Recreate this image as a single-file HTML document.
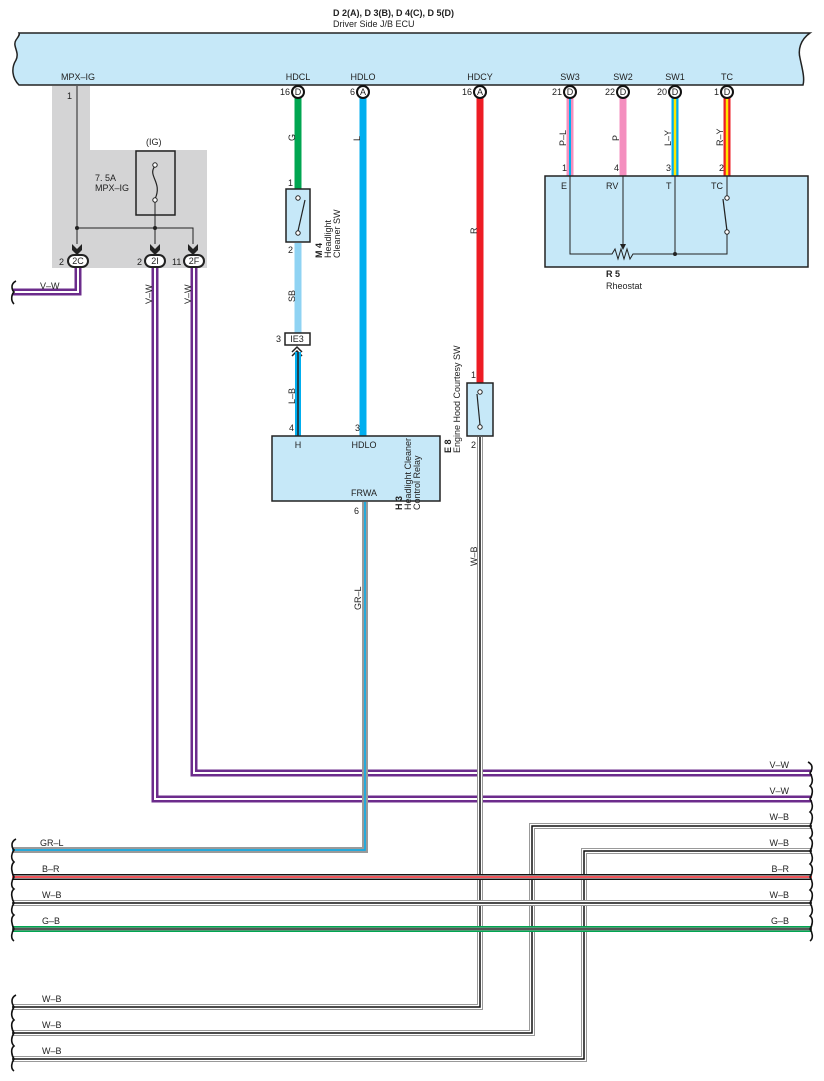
<!DOCTYPE html>
<html><head><meta charset="utf-8"><style>
html,body{margin:0;padding:0;background:#fff}
svg{display:block}
text{font-family:"Liberation Sans",Arial,sans-serif;font-size:9px;fill:#222}
.b{font-weight:bold}
</style></head><body>
<svg width="824" height="1081" viewBox="0 0 824 1081" xmlns="http://www.w3.org/2000/svg">
<!-- header -->
<text x="333" y="16" class="b" font-size="9">D 2(A), D 3(B), D 4(C), D 5(D)</text>
<text x="333" y="27">Driver Side J/B ECU</text>
<!-- ECU bar -->
<path d="M19,33 L810,33 C800,40 798,50 800,58 C802,68 805,78 803,85 L19,85 C12,78 11,68 16,60 C20,52 12,46 16,40 C18,37 20,35 19,33 Z" fill="#c6e8f8" stroke="#222" stroke-width="1.5"/>
<g text-anchor="middle">
<text x="78" y="80">MPX–IG</text>
<text x="298" y="80">HDCL</text>
<text x="363" y="80">HDLO</text>
<text x="480" y="80">HDCY</text>
<text x="570" y="80">SW3</text>
<text x="623" y="80">SW2</text>
<text x="675" y="80">SW1</text>
<text x="727" y="80">TC</text>
</g>
<!-- gray area -->
<path d="M52,86 L90,86 L90,150 L207,150 L207,268 L52,268 Z" fill="#d4d4d5"/>
<text x="67" y="99">1</text>
<line x1="77" y1="86" x2="77" y2="244" stroke="#222" stroke-width="1"/>
<text x="146" y="145">(IG)</text>
<rect x="136" y="151" width="39" height="64" fill="none" stroke="#222" stroke-width="1.5"/>
<path d="M155,166 C147,176 163,182 155,199" fill="none" stroke="#222" stroke-width="1.2"/>
<circle cx="155" cy="165" r="2.2" fill="#fff" stroke="#222"/>
<circle cx="155" cy="200" r="2.2" fill="#fff" stroke="#222"/>
<text x="95" y="181">7. 5A</text>
<text x="95" y="191">MPX–IG</text>
<line x1="155" y1="202" x2="155" y2="244" stroke="#222"/>
<polyline points="77,228 193,228 193,244" fill="none" stroke="#222"/>
<circle cx="77" cy="228" r="2" fill="#222"/><circle cx="155" cy="228" r="2" fill="#222"/>
<g fill="#222">
<path d="M72,244 L77,249 L82,244 L82,250 L77,255 L72,250 Z"/>
<path d="M150,244 L155,249 L160,244 L160,250 L155,255 L150,250 Z"/>
<path d="M188,244 L193,249 L198,244 L198,250 L193,255 L188,250 Z"/>
</g>
<!-- purple wires -->
<g fill="none" stroke-linejoin="miter">
<polyline points="78,267 78,292 12,292" stroke="#6c2c8c" stroke-width="7"/>
<polyline points="78,267 78,292 12,292" stroke="#fff" stroke-width="2"/>
<polyline points="155,267 155,799 812,799" stroke="#6c2c8c" stroke-width="7"/>
<polyline points="155,267 155,799 812,799" stroke="#fff" stroke-width="2"/>
<polyline points="194,267 194,773 812,773" stroke="#6c2c8c" stroke-width="7"/>
<polyline points="194,267 194,773 812,773" stroke="#fff" stroke-width="2"/>
</g>
<g stroke="#222" stroke-width="2" fill="#fff">
<rect x="68" y="255" width="20" height="12" rx="6"/>
<rect x="145" y="255" width="20" height="12" rx="6"/>
<rect x="184" y="255" width="20" height="12" rx="6"/>
</g>
<g text-anchor="middle" font-size="8.5">
<text x="78" y="264">2C</text><text x="155" y="264">2I</text><text x="194" y="264">2F</text>
</g>
<text x="59" y="265">2</text><text x="137" y="265">2</text><text x="172" y="265">11</text>
<text x="40" y="289">V–W</text>
<text transform="translate(152,304) rotate(-90)">V–W</text>
<text transform="translate(191,304) rotate(-90)">V–W</text>

<!-- HDCL green -->
<line x1="298" y1="98" x2="298" y2="189" stroke="#00a651" stroke-width="7"/>
<text transform="translate(295,141) rotate(-90)">G</text>
<text x="288" y="186">1</text>
<rect x="286" y="189" width="24" height="53" fill="#c6e8f8" stroke="#222" stroke-width="1.5"/>
<circle cx="298" cy="198" r="2.2" fill="#fff" stroke="#222"/>
<circle cx="298" cy="233" r="2.2" fill="#fff" stroke="#222"/>
<line x1="298" y1="231" x2="305" y2="200" stroke="#222" stroke-width="1.2"/>
<text x="288" y="253">2</text>
<text transform="translate(322,258) rotate(-90)" class="b">M 4</text>
<text transform="translate(331,258) rotate(-90)">Headlight</text>
<text transform="translate(340,258) rotate(-90)">Cleaner SW</text>
<line x1="298" y1="243" x2="298" y2="333" stroke="#8fd3f3" stroke-width="7"/>
<text transform="translate(295,302) rotate(-90)">SB</text>
<text x="276" y="342">3</text>
<rect x="285" y="333" width="25" height="12" fill="#fff" stroke="#222" stroke-width="1.5"/>
<text x="297" y="342" text-anchor="middle" font-size="8.5">IE3</text>
<path d="M292,352 L297,347 L302,352 M292,356 L297,351 L302,356" fill="none" stroke="#222" stroke-width="1.5"/>
<line x1="298" y1="352" x2="298" y2="436" stroke="#00aeef" stroke-width="6"/>
<line x1="298" y1="352" x2="298" y2="436" stroke="#222" stroke-width="1.5"/>
<text transform="translate(295,404) rotate(-90)">L–B</text>
<text x="289" y="431">4</text>
<!-- HDLO blue -->
<line x1="363" y1="98" x2="363" y2="436" stroke="#00aeef" stroke-width="7"/>
<text transform="translate(360,141) rotate(-90)">L</text>
<text x="355" y="431">3</text>
<!-- relay -->
<rect x="272" y="436" width="168" height="65" fill="#c6e8f8" stroke="#222" stroke-width="1.5"/>
<text x="298" y="448" text-anchor="middle">H</text>
<text x="364" y="448" text-anchor="middle">HDLO</text>
<text x="364" y="496" text-anchor="middle">FRWA</text>
<text transform="translate(402,510) rotate(-90)" class="b">H 3</text>
<text transform="translate(411,510) rotate(-90)">Headlight Cleaner</text>
<text transform="translate(420,510) rotate(-90)">Control Relay</text>
<text x="354" y="514">6</text>
<!-- GR-L -->
<polyline points="365,502 365,850 12,850" fill="none" stroke="#9a9a9a" stroke-width="6"/>
<polyline points="365,502 365,850 12,850" fill="none" stroke="#00aeef" stroke-width="1.5"/>
<text transform="translate(361,610) rotate(-90)">GR–L</text>
<text x="40" y="846">GR–L</text>

<!-- HDCY red -->
<line x1="480" y1="98" x2="480" y2="383" stroke="#ed1c24" stroke-width="7"/>
<text transform="translate(477,234) rotate(-90)">R</text>
<text x="471" y="378">1</text>
<rect x="467" y="383" width="26" height="53" fill="#c6e8f8" stroke="#222" stroke-width="1.5"/>
<circle cx="480" cy="392" r="2.2" fill="#fff" stroke="#222"/>
<circle cx="480" cy="427" r="2.2" fill="#fff" stroke="#222"/>
<line x1="480" y1="425" x2="477" y2="394" stroke="#222" stroke-width="1.2"/>
<text x="471" y="448">2</text>
<text transform="translate(451,453) rotate(-90)" class="b">E 8</text>
<text transform="translate(460,453) rotate(-90)">Engine Hood Courtesy SW</text>
<text transform="translate(477,566) rotate(-90)">W–B</text>

<!-- W-B wires (gray/black/gray) -->
<g fill="none">
<polyline points="480,437 480,1007 12,1007" stroke="#999" stroke-width="6"/>
<polyline points="480,437 480,1007 12,1007" stroke="#fff" stroke-width="4"/>
<polyline points="480,437 480,1007 12,1007" stroke="#111" stroke-width="1.5"/>
<polyline points="812,826 532,826 532,1033 12,1033" stroke="#999" stroke-width="6"/>
<polyline points="812,826 532,826 532,1033 12,1033" stroke="#fff" stroke-width="4"/>
<polyline points="812,826 532,826 532,1033 12,1033" stroke="#111" stroke-width="1.5"/>
<polyline points="812,851 584,851 584,1059 12,1059" stroke="#999" stroke-width="6"/>
<polyline points="812,851 584,851 584,1059 12,1059" stroke="#fff" stroke-width="4"/>
<polyline points="812,851 584,851 584,1059 12,1059" stroke="#111" stroke-width="1.5"/>
<!-- B-R -->
<line x1="12" y1="877" x2="812" y2="877" stroke="#111" stroke-width="6"/>
<line x1="12" y1="877" x2="812" y2="877" stroke="#fff" stroke-width="3"/>
<line x1="12" y1="877" x2="812" y2="877" stroke="#ed1c24" stroke-width="1.5"/>
<!-- W-B -->
<line x1="12" y1="903" x2="812" y2="903" stroke="#999" stroke-width="6"/>
<line x1="12" y1="903" x2="812" y2="903" stroke="#fff" stroke-width="4"/>
<line x1="12" y1="903" x2="812" y2="903" stroke="#111" stroke-width="1.5"/>
<!-- G-B -->
<line x1="12" y1="929" x2="812" y2="929" stroke="#00a651" stroke-width="6"/>
<line x1="12" y1="929" x2="812" y2="929" stroke="#999" stroke-width="3"/>
<line x1="12" y1="929" x2="812" y2="929" stroke="#111" stroke-width="1"/>
</g>
<!-- left labels -->
<text x="42" y="872">B–R</text>
<text x="42" y="898">W–B</text>
<text x="42" y="924">G–B</text>
<text x="42" y="1002">W–B</text>
<text x="42" y="1028">W–B</text>
<text x="42" y="1054">W–B</text>
<!-- right labels -->
<g text-anchor="end">
<text x="789" y="768">V–W</text>
<text x="789" y="794">V–W</text>
<text x="789" y="820">W–B</text>
<text x="789" y="846">W–B</text>
<text x="789" y="872">B–R</text>
<text x="789" y="898">W–B</text>
<text x="789" y="924">G–B</text>
</g>
<!-- braces -->
<g fill="none" stroke="#111" stroke-width="1.6">
<path d="M16,281 C10,284 12,290 14,292 C12,294 10,300 14,304"/>
<path d="M16,839 C10,842 12,848 14,850 C12,853 10,858 14,862 C10,866 12,873 14,877 C12,880 10,886 14,889 C10,892 12,899 14,903 C12,906 10,912 14,915 C10,918 12,925 14,929 C12,932 10,938 14,941"/>
<path d="M16,995 C10,998 12,1004 14,1007 C12,1010 10,1016 14,1020 C10,1023 12,1030 14,1033 C12,1036 10,1042 14,1046 C10,1049 12,1056 14,1059 C12,1062 10,1068 14,1071"/>
<path d="M808,762 C814,765 812,770 810,773 C812,776 814,782 810,786 C814,789 812,796 810,799 C812,802 814,808 810,812 C814,815 812,822 810,826 C812,829 814,835 810,838 C814,841 812,848 810,851 C812,854 814,860 810,864 C814,867 812,874 810,877 C812,880 814,886 810,890 C814,893 812,900 810,903 C812,906 814,912 810,916 C814,919 812,926 810,929 C812,932 814,938 810,941"/>
</g>

<!-- Rheostat wires -->
<g>
<line x1="570" y1="98" x2="570" y2="176" stroke="#f48fbf" stroke-width="7"/>
<line x1="570" y1="98" x2="570" y2="176" stroke="#00aeef" stroke-width="2"/>
<line x1="623" y1="98" x2="623" y2="176" stroke="#f48fbf" stroke-width="7"/>
<line x1="675" y1="98" x2="675" y2="176" stroke="#00aeef" stroke-width="7"/>
<line x1="675" y1="98" x2="675" y2="176" stroke="#ffe600" stroke-width="2.5"/>
<line x1="727" y1="98" x2="727" y2="176" stroke="#ed1c24" stroke-width="7"/>
<line x1="727" y1="98" x2="727" y2="176" stroke="#ffe600" stroke-width="2.5"/>
</g>
<text transform="translate(566,146) rotate(-90)">P–L</text>
<text transform="translate(619,141) rotate(-90)">P</text>
<text transform="translate(671,146) rotate(-90)">L–Y</text>
<text transform="translate(723,146) rotate(-90)">R–Y</text>
<text x="562" y="171">1</text><text x="614" y="171">4</text><text x="666" y="171">3</text><text x="719" y="171">2</text>
<rect x="545" y="176" width="263" height="91" fill="#c6e8f8" stroke="#222" stroke-width="1.5"/>
<text x="561" y="189">E</text><text x="606" y="189">RV</text><text x="666" y="189">T</text><text x="711" y="189">TC</text>
<g fill="none" stroke="#222" stroke-width="1">
<polyline points="570,176 570,254 612,254 615,249 618,259 621,249 624,259 627,249 630,259 633,254 727,254 727,233"/>
<line x1="623" y1="176" x2="623" y2="246"/>
<line x1="675" y1="176" x2="675" y2="254"/>
<line x1="727" y1="176" x2="727" y2="196"/>
<line x1="727" y1="231" x2="723" y2="199" stroke-width="1.2"/>
</g>
<path d="M620,244 L626,244 L623,250 Z" fill="#222"/>
<circle cx="675" cy="254" r="2" fill="#222"/>
<circle cx="727" cy="198" r="2.2" fill="#fff" stroke="#222"/>
<circle cx="727" cy="232" r="2.2" fill="#fff" stroke="#222"/>
<text x="606" y="277" class="b">R 5</text>
<text x="606" y="289">Rheostat</text>

<!-- pin circles -->
<g stroke="#111" stroke-width="2" fill="#fff">
<circle cx="298" cy="92" r="6"/><circle cx="363" cy="92" r="6"/><circle cx="480" cy="92" r="6"/>
<circle cx="570" cy="92" r="6"/><circle cx="623" cy="92" r="6"/><circle cx="675" cy="92" r="6"/><circle cx="727" cy="92" r="6"/>
</g>
<g text-anchor="middle" font-size="8">
<text x="298" y="95">D</text><text x="363" y="95">A</text><text x="480" y="95">A</text>
<text x="570" y="95">D</text><text x="623" y="95">D</text><text x="675" y="95">D</text><text x="727" y="95">D</text>
</g>
<g text-anchor="end">
<text x="290" y="95">16</text><text x="355" y="95">6</text><text x="472" y="95">16</text>
<text x="562" y="95">21</text><text x="615" y="95">22</text><text x="667" y="95">20</text><text x="719" y="95">1</text>
</g>
</svg>
</body></html>
